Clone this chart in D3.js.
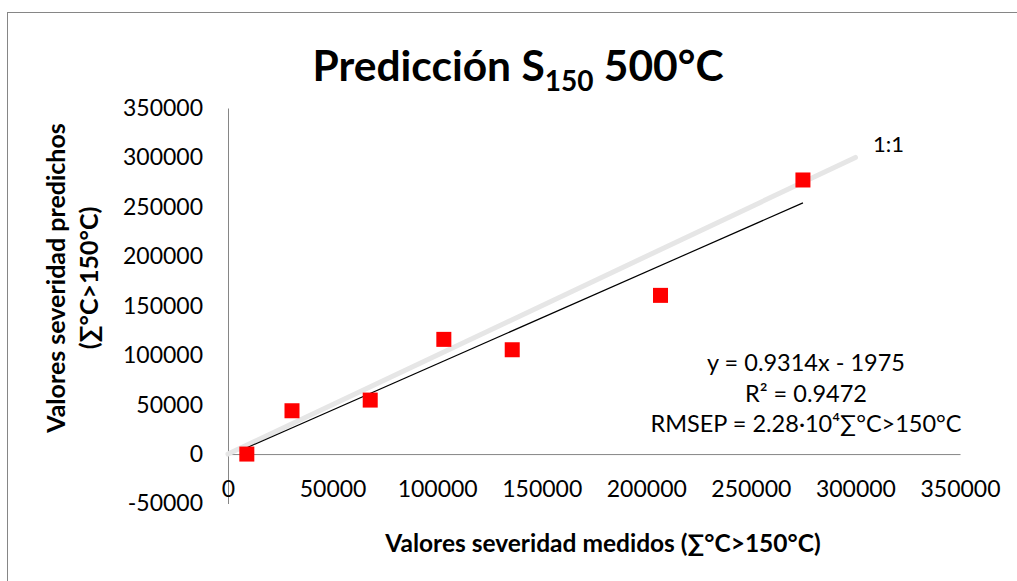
<!DOCTYPE html>
<html>
<head>
<meta charset="utf-8">
<script src="https://cdn.jsdelivr.net/npm/d3@7"></script>
<style>
  html, body { margin: 0; padding: 0; background: #fff; }
  svg { display: block; }
  text { font-family: Lato, "Noto Sans", sans-serif; fill: #000; }
</style>
</head>
<body>
<svg id="chart" width="1017" height="581"></svg>
<script>
// Measured vs predicted severity (∑°C>150°C) at 500°C
const measured  = [9000, 30600, 68000, 103200, 135900, 206800, 274900];
const predicted = [0, 43800, 54600, 116000, 105500, 160500, 277200];

// Linear fit reported on the chart
const fitSlope = 0.9314;
const fitIntercept = -1975;

// 1:1 reference line end points
const identityRange = [0, 300000];

const xTicks = [0, 50000, 100000, 150000, 200000, 250000, 300000, 350000];
const yTicks = [-50000, 0, 50000, 100000, 150000, 200000, 250000, 300000, 350000];

const statLines = ["y = 0.9314x - 1975", "R² = 0.9472", "RMSEP = 2.28·10⁴∑°C>150°C"];

const svg = d3.select("#chart");

// outer chart frame
svg.append("rect")
  .attr("x", 7.5).attr("y", 12.5)
  .attr("width", 1100).attr("height", 700)
  .attr("fill", "#fff").attr("stroke", "#868686").attr("stroke-width", 1);

const x = d3.scaleLinear().domain([0, 350000]).range([228, 960]);
const y = d3.scaleLinear().domain([-50000, 350000]).range([503.5, 108]);

// plain integer labels with an ASCII hyphen for negatives
const plain = d => String(d);

// axes
const yAxis = d3.axisLeft(y).tickValues(yTicks).tickSize(0).tickPadding(25)
  .tickFormat(plain);
const yg = svg.append("g").attr("transform", `translate(${x(0)},0)`).call(yAxis);
yg.select(".domain").attr("stroke", "#868686").attr("stroke-width", 1);
yg.selectAll("text").style("font-size", "23px").attr("fill", "#000");

const xAxis = d3.axisBottom(x).tickValues(xTicks).tickSize(0).tickPadding(27)
  .tickFormat(plain);
const xg = svg.append("g").attr("transform", `translate(0,${y(0)})`).call(xAxis);
xg.select(".domain").attr("stroke", "#868686").attr("stroke-width", 1);
xg.selectAll("text").style("font-size", "23px").attr("fill", "#000");

// 1:1 line
svg.append("line")
  .attr("x1", x(identityRange[0])).attr("y1", y(identityRange[0]))
  .attr("x2", x(identityRange[1])).attr("y2", y(identityRange[1]))
  .attr("stroke", "#e6e6e6").attr("stroke-width", 5).attr("stroke-linecap", "round");

svg.append("text")
  .attr("x", x(identityRange[1]) + 33).attr("y", y(identityRange[1]) - 14)
  .attr("text-anchor", "middle").attr("dominant-baseline", "central")
  .style("font-size", "22px").text("1:1");

// regression line across the measured range
const xMin = d3.min(measured), xMax = d3.max(measured);
svg.append("line")
  .attr("x1", x(xMin)).attr("y1", y(fitSlope * xMin + fitIntercept))
  .attr("x2", x(xMax)).attr("y2", y(fitSlope * xMax + fitIntercept))
  .attr("stroke", "#000").attr("stroke-width", 1.2);

// markers
const pts = measured.map((m, i) => ({ m, p: predicted[i] }));
const ms = 15;
svg.append("g").selectAll("rect").data(pts).join("rect")
  .attr("x", d => x(d.m) - ms / 2).attr("y", d => y(d.p) - ms / 2)
  .attr("width", ms).attr("height", ms)
  .attr("fill", "#ff0000");

// fit statistics
const stats = svg.append("text").attr("text-anchor", "middle").style("font-size", "23.5px");
statLines.forEach((s, i) => {
  stats.append("tspan").attr("x", 806).attr("y", 371 + i * 30.5).text(s);
});

// title
const title = svg.append("text")
  .attr("x", 518).attr("y", 81)
  .attr("text-anchor", "middle")
  .style("font-size", "42.5px").style("font-weight", "bold");
title.append("tspan").text("Predicción S");
title.append("tspan").attr("dy", 10).style("font-size", "28px").text("150");
title.append("tspan").attr("dy", -10).text(" 500°C");

// axis titles
svg.append("text")
  .attr("x", 603).attr("y", 552).attr("text-anchor", "middle")
  .style("font-size", "24.5px").style("font-weight", "bold")
  .text("Valores severidad medidos (∑°C>150°C)");

const yt = svg.append("text")
  .attr("transform", "translate(0,278) rotate(-90)")
  .attr("text-anchor", "middle")
  .style("font-size", "25px").style("font-weight", "bold");
yt.append("tspan").attr("x", 0).attr("y", 65).text("Valores severidad predichos");
yt.append("tspan").attr("x", 0).attr("y", 98).text("(∑°C>150°C)");
</script>
</body>
</html>
